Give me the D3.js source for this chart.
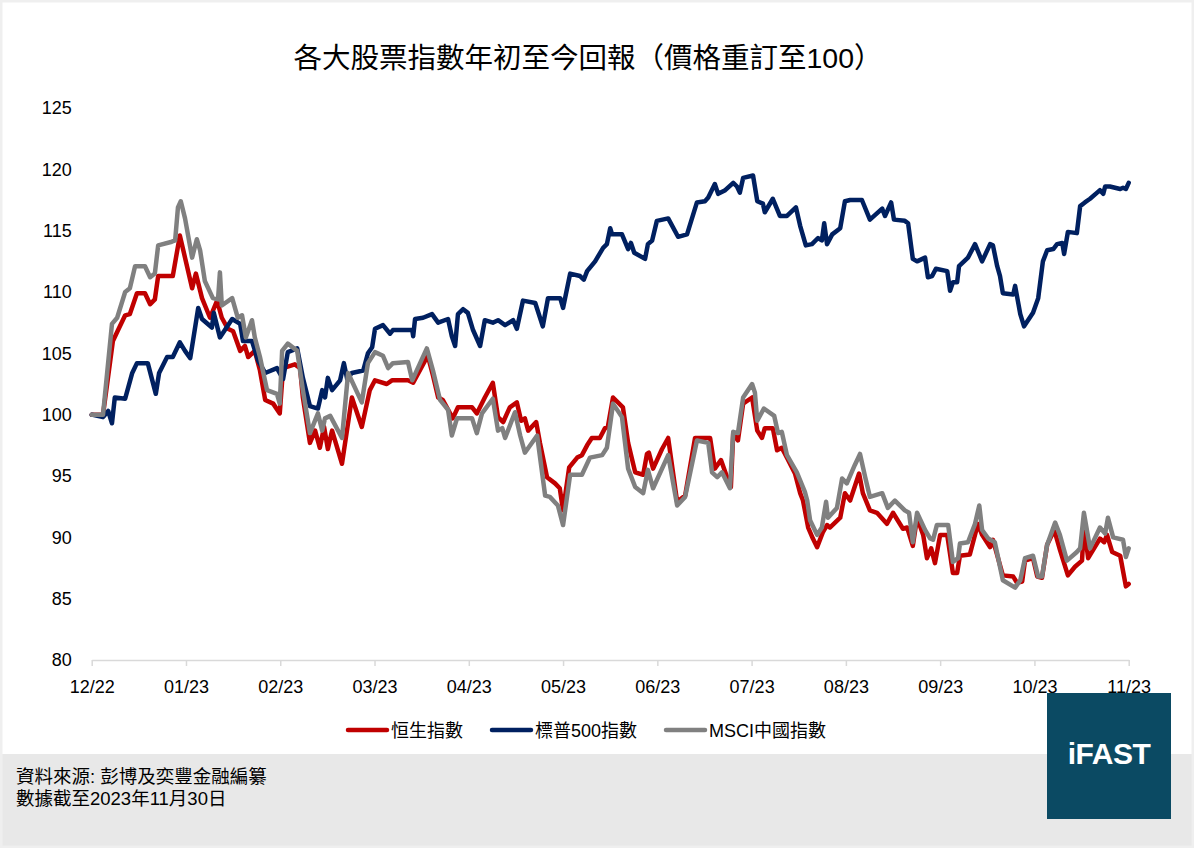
<!DOCTYPE html>
<html>
<head>
<meta charset="utf-8">
<script src="https://cdn.jsdelivr.net/npm/d3@7"></script>
<style>
  body { margin: 0; background: #fff; }
  text { font-family: "Liberation Sans", Arial, "Noto Sans CJK TC", sans-serif; }
</style>
</head>
<body>
<div id="chart"></div>
<script>
// x positions are trading-day offsets from 30/12/2022 (20 units per month on the axis)
const monthLabels = ["12/22", "01/23", "02/23", "03/23", "04/23", "05/23", "06/23", "07/23", "08/23", "09/23", "10/23", "11/23"];
const monthTicks = [0, 20, 40, 60, 80, 100, 120, 140, 160, 180, 200, 220];
const yTicks = [80, 85, 90, 95, 100, 105, 110, 115, 120, 125];

const seriesNames = ["恒生指數", "標普500指數", "MSCI中國指數"];
const seriesColors = ["#c00000", "#002060", "#808080"];

// 恒生指數
const hsi = [[0,100],[2.4,100],[4.5,106.0],[5.6,106.9],[7.1,108.1],[8.1,108.2],[9.6,109.9],[11.3,109.9],[12.4,109.0],[13.4,109.4],[14.1,111.3],[17.2,111.3],[18.7,114.6],[19.8,112.8],[21.3,110.3],[22.1,111.5],[23.4,109.5],[25.1,107.9],[26.6,109.3],[27.6,107.9],[28.9,107.0],[30.0,106.8],[31.5,105.2],[32.5,105.6],[33.2,104.7],[34.6,105.2],[35.7,103.6],[36.8,101.2],[38.5,100.9],[39.9,100.1],[40.6,103.8],[43.1,104.1],[44.2,103.8],[44.8,101.4],[46.3,97.7],[47.4,98.7],[48.4,97.3],[49.3,99.0],[50.1,97.2],[51.0,98.7],[53.1,96.0],[55.2,101.4],[57.3,99.0],[59.0,102.0],[60.1,102.8],[62.6,102.5],[63.7,102.8],[67.1,102.8],[68.2,102.6],[71.3,104.8],[72.4,103.2],[73.5,101.4],[74.5,101.2],[76.6,99.7],[77.7,100.6],[80.7,100.6],[81.7,100.1],[83.4,101.4],[85.1,102.6],[86.2,99.8],[87.3,99.4],[88.7,100.6],[90.2,101.0],[91.1,99.5],[91.9,99.7],[92.6,98.7],[94.3,99.4],[95.1,97.7],[96.6,94.9],[98.3,94.4],[99.3,94.0],[100.0,92.2],[101.3,95.7],[103.0,96.5],[104.0,96.7],[105.1,97.5],[106.1,98.1],[107.8,98.1],[108.9,98.9],[109.5,99.0],[110.6,101.4],[112.7,100.6],[113.8,97.7],[115.3,95.3],[117.0,95.1],[117.8,96.8],[118.2,96.9],[119.1,95.6],[121.0,97.2],[122.3,98.1],[124.2,92.9],[125.9,93.4],[128.0,98.1],[131.2,98.1],[132.2,95.6],[133.5,96.3],[134.8,94.9],[135.6,94.1],[136.1,98.5],[137.1,97.9],[138.2,100.9],[140.1,101.4],[141.2,98.7],[142.2,98.1],[142.8,98.9],[144.5,98.9],[145.4,97.1],[146.4,97.3],[147.5,96.5],[149.2,95.2],[150.3,93.6],[150.9,93.0],[152.0,90.8],[153.0,89.9],[153.9,89.2],[155.1,90.4],[156.0,91.0],[156.6,90.8],[158.8,91.6],[159.8,93.6],[160.9,93.0],[162.8,95.2],[163.6,93.6],[165.1,92.2],[166.6,92.0],[168.7,91.1],[170.0,92.0],[172.1,90.7],[173.0,90.8],[174.2,89.3],[175.1,91.6],[176.4,90.2],[177.2,88.3],[178.1,89.1],[178.9,87.9],[180.0,90.2],[181.5,90.2],[182.7,87.1],[183.6,87.1],[184.2,88.5],[186.3,88.6],[188.0,91.1],[188.9,90.2],[190.6,89.2],[191.2,89.8],[193.3,86.9],[195.5,86.8],[196.3,86.3],[197.4,86.4],[198.0,88.1],[199.7,88.3],[200.6,86.8],[201.6,86.7],[202.7,89.4],[204.2,90.6],[205.4,89.0],[207.1,86.9],[208.6,87.6],[210.1,88.1],[210.5,91.0],[211.4,88.3],[213.9,89.9],[214.8,89.6],[215.4,90.2],[216.5,88.8],[218.2,88.5],[219.4,86.0],[220,86.2]];

// 標普500指數
const spx = [[0,100],[2.4,99.8],[3.5,100.3],[4.3,99.3],[4.9,101.4],[7.1,101.3],[8.6,103.4],[9.6,104.2],[11.9,104.2],[13.6,101.7],[14.3,103.4],[16.0,104.7],[17.2,104.7],[18.7,105.9],[19.8,105.2],[20.9,104.6],[22.6,108.7],[23.4,107.8],[25.5,107.1],[25.9,108.3],[27.2,106.3],[29.8,107.8],[31.5,107.4],[32.1,106.0],[34.0,106.0],[35.3,104.4],[36.8,103.4],[39.3,103.8],[40.6,102.9],[41.6,105.1],[43.6,105.4],[44.8,103.0],[46.3,100.7],[48.0,100.5],[48.9,102.0],[49.5,101.4],[50.1,103.0],[51.0,102.0],[52.7,102.8],[53.5,104.2],[54.2,102.9],[55.2,103.4],[57.6,103.6],[58.6,105.0],[59.5,105.5],[60.1,107.0],[61.8,107.3],[63.3,106.6],[63.9,106.9],[68.0,106.9],[68.2,106.4],[68.6,107.8],[70.3,107.9],[72.2,108.2],[73.5,107.5],[75.6,107.8],[76.4,106.4],[77.1,105.6],[77.7,108.2],[78.8,108.6],[79.8,108.3],[80.9,106.9],[82.4,105.6],[83.4,107.7],[85.1,107.5],[86.2,107.7],[87.7,107.3],[89.4,107.7],[90.2,107.0],[91.5,109.3],[94.1,109.1],[95.7,107.2],[96.8,109.5],[99.4,109.5],[100.0,108.7],[101.5,111.5],[103.6,111.3],[104.4,111.0],[105.1,111.7],[106.8,112.5],[108.5,113.6],[109.3,113.9],[110.0,115.2],[110.4,114.7],[112.5,114.7],[113.8,113.5],[114.4,114.0],[115.1,113.2],[117.4,112.7],[118.0,113.9],[118.9,114.2],[119.9,115.8],[122.3,116.0],[124.4,114.5],[126.3,114.7],[128.4,117.3],[130.1,117.4],[130.8,117.7],[132.2,118.8],[132.9,118.0],[134.4,118.3],[136.1,118.9],[136.9,118.6],[137.5,118.1],[138.2,119.3],[140.3,119.5],[141.2,117.4],[142.4,117.2],[142.8,116.5],[144.5,117.6],[146.0,116.2],[147.5,116.2],[149.4,116.9],[150.3,115.4],[151.5,113.8],[152.8,113.9],[154.1,114.4],[154.9,114.2],[155.4,115.6],[156.0,113.9],[157.1,114.7],[158.8,115.2],[159.8,117.4],[160.9,117.5],[163.4,117.5],[165.1,115.9],[167.7,116.8],[168.3,116.2],[169.6,117.3],[170.2,115.9],[172.5,115.8],[173.2,115.6],[174.2,112.7],[175.1,112.5],[176.8,112.8],[177.4,111.2],[178.3,111.3],[179.1,111.9],[181.5,111.7],[182.1,110.1],[182.7,110.8],[183.6,110.8],[184.0,112.1],[185.9,112.8],[187.4,113.9],[188.9,112.5],[190.6,113.9],[191.2,113.8],[192.1,112.1],[192.7,111.3],[193.3,109.9],[195.5,109.8],[195.9,110.5],[197.0,108.2],[197.8,107.2],[199.7,108.3],[200.8,109.5],[201.8,112.5],[202.7,113.4],[204.0,113.5],[204.8,113.9],[205.9,114.0],[206.3,113.1],[207.1,114.9],[209.0,114.8],[209.7,117.0],[210.7,117.3],[211.8,117.6],[213.3,118.1],[213.9,118.3],[214.6,118.0],[215.0,118.6],[216.0,118.6],[218.2,118.4],[218.8,118.5],[219.4,118.4],[220,118.9]];

// MSCI中國指數
const msci = [[0,100],[2.4,100],[4.3,107.4],[5.4,107.9],[7.1,110.0],[8.1,110.3],[9.2,112.1],[11.3,112.1],[12.4,111.2],[13.4,111.5],[14.1,113.8],[17.0,114.1],[17.7,114.2],[18.3,116.9],[18.9,117.4],[19.8,116.0],[21.3,112.8],[22.3,114.3],[23.0,113.4],[24.0,110.9],[25.7,109.5],[26.8,109.4],[27.2,111.6],[27.6,108.9],[29.8,109.5],[31.0,107.9],[31.9,108.1],[32.7,106.3],[34.0,107.7],[34.6,106.3],[35.7,104.7],[37.2,102.0],[39.3,101.7],[39.9,100.9],[40.4,105.2],[41.6,105.8],[43.6,105.2],[44.8,102.0],[46.3,98.5],[48.0,100.1],[48.9,98.7],[49.5,99.7],[50.6,99.9],[53.1,98.1],[54.4,103.4],[57.3,101.0],[58.6,104.2],[60.1,105.1],[61.8,104.8],[62.9,103.8],[63.9,104.2],[67.1,104.3],[68.0,102.8],[71.1,105.4],[72.4,103.6],[73.9,101.2],[75.6,100.4],[76.4,98.3],[77.5,99.7],[80.7,99.7],[81.7,98.5],[82.8,100.1],[85.1,101.3],[86.2,98.7],[87.1,98.9],[87.7,98.1],[89.8,100.2],[90.9,98.3],[91.9,96.9],[94.5,98.3],[96.2,93.4],[97.2,93.3],[98.9,92.6],[100.0,91.0],[101.5,95.1],[104.0,95.1],[105.7,96.5],[108.3,96.7],[109.3,97.3],[110.6,100.9],[112.5,99.8],[113.8,95.6],[115.3,94.1],[117.0,93.6],[118.0,95.5],[119.1,94.0],[122.3,96.7],[124.2,92.6],[125.9,93.3],[128.4,97.9],[130.8,97.7],[131.6,95.3],[132.7,94.9],[133.7,95.3],[135.4,94.0],[136.1,98.6],[137.1,98.5],[138.2,101.4],[140.1,102.5],[140.7,101.8],[141.2,99.5],[142.6,100.5],[144.8,99.9],[145.6,98.5],[146.4,98.6],[147.5,96.7],[149.6,95.3],[151.3,93.7],[151.8,93.0],[152.4,91.4],[153.9,90.2],[154.9,90.8],[155.8,92.9],[156.2,91.6],[158.1,92.4],[159.2,94.8],[160.2,94.4],[161.9,95.9],[163.0,96.8],[164.1,94.9],[165.1,93.3],[167.7,93.6],[168.9,92.4],[170.4,93.0],[172.5,92.2],[173.4,92.0],[174.2,89.6],[175.1,92.0],[176.8,90.6],[177.9,89.9],[178.5,89.8],[179.3,91.0],[181.7,91.0],[182.7,88.0],[183.8,88.3],[184.2,89.5],[185.9,89.6],[187.4,91.1],[188.3,92.6],[188.9,90.6],[190.2,89.9],[191.6,89.6],[193.3,86.5],[195.9,85.9],[197.0,86.5],[198.0,88.3],[199.7,88.5],[200.8,86.8],[201.6,86.8],[202.7,89.4],[204.4,91.2],[205.4,90.2],[206.9,88.1],[209.0,88.8],[209.7,89.1],[210.5,92.0],[211.8,89.1],[213.9,90.8],[215.0,90.3],[215.6,91.6],[216.7,90.0],[218.8,89.8],[219.4,88.4],[220,89.1]];

const W = 1194, H = 848;
const plot = { left: 91.7, right: 1128.7, top: 108, bottom: 660 };

const svg = d3.select("#chart")
  .append("svg")
  .attr("width", W)
  .attr("height", H);

// footer band
svg.append("rect")
  .attr("x", 0).attr("y", 754)
  .attr("width", W).attr("height", H - 754)
  .attr("fill", "#e8e8e8");

// light outer frame
svg.append("rect")
  .attr("x", 1).attr("y", 1)
  .attr("width", W - 2).attr("height", H - 2)
  .attr("fill", "none")
  .attr("stroke", "#efefef")
  .attr("stroke-width", 3);

// Title
svg.append("text")
  .attr("x", 588)
  .attr("y", 68)
  .attr("text-anchor", "middle")
  .style("font-size", "28.5px")
  .attr("fill", "#000")
  .text("各大股票指數年初至今回報（價格重訂至100）");

// Scales
const x = d3.scaleLinear().domain([0, 220]).range([plot.left, plot.right]);
const y = d3.scaleLinear().domain([80, 125]).range([plot.bottom, plot.top]);

// x axis
const xAxis = svg.append("g")
  .attr("transform", `translate(0,${plot.bottom})`)
  .call(d3.axisBottom(x)
    .tickValues(monthTicks)
    .tickFormat((d, i) => monthLabels[i])
    .tickSize(6)
    .tickSizeOuter(0)
    .tickPadding(14));
xAxis.select(".domain").attr("stroke", "#d9d9d9").attr("stroke-width", 1.5);
xAxis.selectAll(".tick line").attr("stroke", "#d9d9d9").attr("stroke-width", 1.5);
xAxis.selectAll(".tick text")
  .attr("fill", "#000")
  .style("font-size", "18px")
  .style("font-family", "'Liberation Sans', Arial, sans-serif");

// y axis (labels only)
const yAxis = svg.append("g")
  .attr("transform", `translate(${plot.left},0)`)
  .call(d3.axisLeft(y).tickValues(yTicks).tickSize(0).tickPadding(20));
yAxis.select(".domain").remove();
yAxis.selectAll(".tick text")
  .attr("fill", "#000")
  .style("font-size", "18px")
  .style("font-family", "'Liberation Sans', Arial, sans-serif");

// Lines
const line = d3.line()
  .x((d) => x(d[0]))
  .y((d) => y(d[1]));

[hsi, spx, msci].forEach((data, i) => {
  svg.append("path")
    .datum(data)
    .attr("fill", "none")
    .attr("stroke", seriesColors[i])
    .attr("stroke-width", 4.5)
    .attr("stroke-linejoin", "round")
    .attr("stroke-linecap", "round")
    .attr("d", line);
});

// Legend
const legend = svg.append("g");
let lx = 0;
seriesNames.forEach((name, i) => {
  const item = legend.append("g").attr("transform", `translate(${lx},0)`);
  item.append("line")
    .attr("x1", 2).attr("x2", 41)
    .attr("y1", 0).attr("y2", 0)
    .attr("stroke", seriesColors[i])
    .attr("stroke-width", 4.5)
    .attr("stroke-linecap", "round");
  const t = item.append("text")
    .attr("x", 45)
    .attr("y", 6.5)
    .style("font-size", "18px")
    .attr("fill", "#000")
    .text(name);
  lx += 45 + t.node().getComputedTextLength() + 27;
});
const legendWidth = lx - 27;
legend.attr("transform", `translate(${586 - legendWidth / 2},730)`);

// Source notes
const notes = ["資料來源: 彭博及奕豐金融編纂", "數據截至2023年11月30日"];
svg.selectAll(".note")
  .data(notes)
  .enter()
  .append("text")
  .attr("class", "note")
  .attr("x", 16)
  .attr("y", (d, i) => 783 + i * 22)
  .style("font-size", "18.5px")
  .attr("fill", "#000")
  .text((d) => d);

// Logo
svg.append("rect")
  .attr("x", 1047).attr("y", 693)
  .attr("width", 124).attr("height", 126)
  .attr("fill", "#0b4a63");
svg.append("text")
  .attr("x", 1109)
  .attr("y", 764)
  .attr("text-anchor", "middle")
  .style("font-size", "30px")
  .style("font-weight", "bold")
  .style("letter-spacing", "-0.5px")
  .attr("fill", "#fff")
  .text("iFAST");
</script>
</body>
</html>
